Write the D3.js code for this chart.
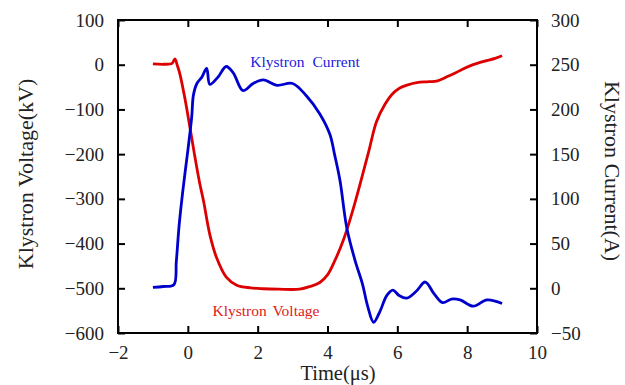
<!DOCTYPE html>
<html>
<head>
<meta charset="utf-8">
<script src="https://cdn.jsdelivr.net/npm/d3@7"></script>
<style>
  body { margin: 0; background: #fff; }
  svg { display: block; font-family: "Liberation Serif", "Times New Roman", serif; }
</style>
</head>
<body>
<div id="graphArea"></div>
<script>
// klystron voltage (kV)
var voltTime = [-1.0, -0.7, -0.45, -0.37, -0.3, -0.23, -0.09, 0.06, 0.2, 0.34, 0.45, 0.63, 0.83, 1.1, 1.4, 1.8, 2.15, 2.6, 3.2, 3.5, 3.78, 4.0, 4.2, 4.45, 4.6, 4.8, 4.95, 5.2, 5.4, 5.65, 5.85, 6.07, 6.3, 6.56, 6.9, 7.15, 7.45, 7.8, 8.1, 8.5, 8.8, 9.0]
var voltValues = [2, 1, 3, 13, -2, -20, -73, -140, -205, -265, -305, -380, -433, -475, -493, -499, -501, -502, -502, -496, -487, -470, -440, -393, -358, -305, -262, -188, -128, -88, -66, -52, -45, -40, -38, -36, -26, -13, -2, 8, 14, 20]

// klystron current (A)
var currTime = [-1.0, -0.7, -0.4, -0.33, -0.25, -0.14, 0.0, 0.11, 0.16, 0.26, 0.4, 0.54, 0.63, 0.86, 1.1, 1.3, 1.58, 1.87, 2.16, 2.55, 3.0, 3.4, 3.78, 4.07, 4.2, 4.36, 4.55, 4.79, 5.0, 5.15, 5.32, 5.5, 5.7, 5.87, 6.05, 6.27, 6.55, 6.8, 7.05, 7.3, 7.55, 7.8, 8.17, 8.57, 9.0]
var currValues = [1, 2, 4, 30, 70, 110, 154, 191, 216, 229, 236, 246, 228, 236, 248, 241, 221, 229, 233, 227, 229, 215, 195, 172, 150, 120, 68, 31, 5, -20, -38, -26, -8, -2, -8, -11, -3, 7, -6, -16, -12, -13, -20, -13, -17]

var xTicks = [-2, 0, 2, 4, 6, 8, 10]
var voltTicks = [-600, -500, -400, -300, -200, -100, 0, 100]
var currTicks = [-50, 0, 50, 100, 150, 200, 250, 300]

var W = 625, H = 385
var margin = { top: 20, left: 118, bottom: 52, right: 88 }
var width = W - margin.left - margin.right
var height = H - margin.top - margin.bottom

var redC = "#dd0000", blueC = "#0000cc"

var svg = d3.select("#graphArea").append("svg")
  .attr("width", W)
  .attr("height", H)

var g = svg.append("g")
  .attr("transform", "translate(" + margin.left + "," + margin.top + ")")

var x = d3.scaleLinear().domain([-2, 10]).range([0, width])
var yV = d3.scaleLinear().domain([-600, 100]).range([height, 0])
var yA = d3.scaleLinear().domain([-50, 300]).range([height, 0])

function styleAxis(sel) {
  sel.select(".domain").remove()
  sel.selectAll(".tick line").attr("stroke", "#000").attr("stroke-width", 2)
  sel.selectAll(".tick text").attr("fill", "#222").style("font-size", "19px")
    .style("font-family", '"Liberation Serif", serif')
}

g.append("g").attr("transform", "translate(0," + height + ")")
  .call(d3.axisBottom(x).tickValues(xTicks).tickFormat(d3.format("d")).tickSizeInner(-7).tickSizeOuter(0).tickPadding(13))
  .call(styleAxis)

g.append("g")
  .call(d3.axisTop(x).tickValues(xTicks).tickFormat("").tickSizeInner(-7).tickSizeOuter(0))
  .call(styleAxis)

g.append("g")
  .call(d3.axisLeft(yV).tickValues(voltTicks).tickFormat(d3.format("d")).tickSizeInner(-7).tickSizeOuter(0).tickPadding(14))
  .call(styleAxis)

g.append("g").attr("transform", "translate(" + width + ",0)")
  .call(d3.axisRight(yA).tickValues(currTicks).tickFormat(d3.format("d")).tickSizeInner(-7).tickSizeOuter(0).tickPadding(14))
  .call(styleAxis)

g.append("rect")
  .attr("width", width).attr("height", height)
  .attr("fill", "none").attr("stroke", "#000").attr("stroke-width", 2)

var voltData = voltTime.map(function (t, i) { return [t, voltValues[i]] })
var currData = currTime.map(function (t, i) { return [t, currValues[i]] })

var lineV = d3.line().x(function (d) { return x(d[0]) }).y(function (d) { return yV(d[1]) }).curve(d3.curveCatmullRom.alpha(0.5))
var lineA = d3.line().x(function (d) { return x(d[0]) }).y(function (d) { return yA(d[1]) }).curve(d3.curveCatmullRom.alpha(0.5))

g.append("path").datum(voltData)
  .attr("d", lineV).attr("fill", "none").attr("stroke", redC).attr("stroke-width", 2.8)

g.append("path").datum(currData)
  .attr("d", lineA).attr("fill", "none").attr("stroke", blueC).attr("stroke-width", 2.8)

// labels on the traces
svg.append("text").attr("x", 305).attr("y", 67).attr("text-anchor", "middle")
  .attr("fill", "#2020dd").style("font-size", "15.5px").style("word-spacing", "4px")
  .text("Klystron Current")

svg.append("text").attr("x", 266).attr("y", 316).attr("text-anchor", "middle")
  .attr("fill", "#e02020").style("font-size", "15.5px").style("word-spacing", "2px")
  .text("Klystron Voltage")

// axis titles
svg.append("text").attr("x", 338).attr("y", 380).attr("text-anchor", "middle")
  .attr("fill", "#222").style("font-size", "20.5px").text("Time(μs)")

svg.append("text").attr("transform", "translate(33,174) rotate(-90)").attr("text-anchor", "middle")
  .attr("fill", "#222").style("font-size", "22px").text("Klystron Voltage(kV)")

svg.append("text").attr("transform", "translate(605,171) rotate(90)").attr("text-anchor", "middle")
  .attr("fill", "#222").style("font-size", "22px").text("Klystron Current(A)")
</script>
</body>
</html>
